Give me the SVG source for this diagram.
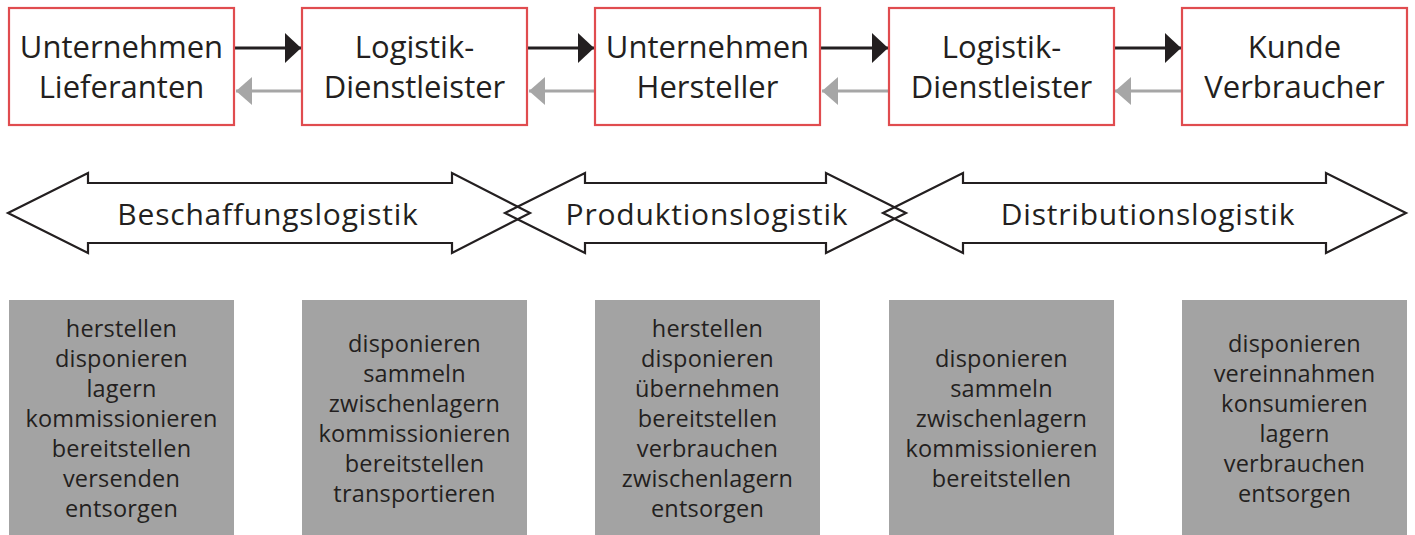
<svg xmlns="http://www.w3.org/2000/svg" width="1415" height="535" viewBox="0 0 1415 535">
<style>
.box{fill:#fff;stroke:#e04c4f;stroke-width:2.2}
.gbox{fill:#a3a3a3}
.t{font-family:"Open Sans","Noto Sans",sans-serif;fill:#231f20;text-anchor:middle}
.big{font-size:31px}
.lbl{font-size:30px;letter-spacing:0.8px}
.sm{font-size:23.5px;letter-spacing:0.2px}
.fw{stroke:#231f20;stroke-width:3;fill:none}
.bw{stroke:#a6a6a6;stroke-width:3;fill:none}
.dbl{fill:none;stroke:#231f20;stroke-width:2.2;stroke-linejoin:miter}
</style>
<defs>
<marker id="hb" markerWidth="16" markerHeight="30" refX="16" refY="15" orient="auto" markerUnits="userSpaceOnUse"><path d="M0,0 L16,15 L0,30 Z" fill="#231f20"/></marker>
<marker id="hg" markerWidth="16" markerHeight="28" refX="16" refY="14" orient="auto" markerUnits="userSpaceOnUse"><path d="M0,0 L16,14 L0,28 Z" fill="#a6a6a6"/></marker>
</defs>
<g id="connectors">
<line class="fw" x1="235" y1="48" x2="301" y2="48" marker-end="url(#hb)"/>
<line class="bw" x1="302" y1="91" x2="236" y2="91" marker-end="url(#hg)"/>
<line class="fw" x1="528" y1="48" x2="594" y2="48" marker-end="url(#hb)"/>
<line class="bw" x1="595" y1="91" x2="529" y2="91" marker-end="url(#hg)"/>
<line class="fw" x1="821" y1="48" x2="888" y2="48" marker-end="url(#hb)"/>
<line class="bw" x1="889" y1="91" x2="822" y2="91" marker-end="url(#hg)"/>
<line class="fw" x1="1114" y1="48" x2="1181" y2="48" marker-end="url(#hb)"/>
<line class="bw" x1="1182" y1="91" x2="1115" y2="91" marker-end="url(#hg)"/>
</g>
<g id="n1"><rect class="box" x="9" y="8" width="225" height="117"/><text class="t big" x="121.5" y="58">Unternehmen</text><text class="t big" x="121.5" y="98">Lieferanten</text></g>
<g id="n2"><rect class="box" x="302" y="8" width="225" height="117"/><text class="t big" x="414.5" y="58">Logistik-</text><text class="t big" x="414.5" y="98">Dienstleister</text></g>
<g id="n3"><rect class="box" x="595" y="8" width="225" height="117"/><text class="t big" x="707.5" y="58">Unternehmen</text><text class="t big" x="707.5" y="98">Hersteller</text></g>
<g id="n4"><rect class="box" x="889" y="8" width="225" height="117"/><text class="t big" x="1001.5" y="58">Logistik-</text><text class="t big" x="1001.5" y="98">Dienstleister</text></g>
<g id="n5"><rect class="box" x="1182" y="8" width="225" height="117"/><text class="t big" x="1294.5" y="58">Kunde</text><text class="t big" x="1294.5" y="98">Verbraucher</text></g>
<g id="a1"><polygon class="dbl" points="8,213 88,173 88,183 452,183 452,173 530,213 452,253 452,243 88,243 88,253"/><text class="t lbl" x="268" y="225">Beschaffungslogistik</text></g>
<g id="a2"><polygon class="dbl" points="505,213 585,173 585,183 826,183 826,173 906,213 826,253 826,243 585,243 585,253"/><text class="t lbl" x="707" y="225">Produktionslogistik</text></g>
<g id="a3"><polygon class="dbl" points="883,213 963,173 963,183 1326,183 1326,173 1406,213 1326,253 1326,243 963,243 963,253"/><text class="t lbl" x="1148" y="225">Distributionslogistik</text></g>
<g id="g1"><rect class="gbox" x="9" y="300" width="225" height="235"/><text class="t sm" y="337"><tspan x="121.5">herstellen</tspan><tspan x="121.5" dy="30">disponieren</tspan><tspan x="121.5" dy="30">lagern</tspan><tspan x="121.5" dy="30">kommissionieren</tspan><tspan x="121.5" dy="30">bereitstellen</tspan><tspan x="121.5" dy="30">versenden</tspan><tspan x="121.5" dy="30">entsorgen</tspan></text></g>
<g id="g2"><rect class="gbox" x="302" y="300" width="225" height="235"/><text class="t sm" y="352"><tspan x="414.5">disponieren</tspan><tspan x="414.5" dy="30">sammeln</tspan><tspan x="414.5" dy="30">zwischenlagern</tspan><tspan x="414.5" dy="30">kommissionieren</tspan><tspan x="414.5" dy="30">bereitstellen</tspan><tspan x="414.5" dy="30">transportieren</tspan></text></g>
<g id="g3"><rect class="gbox" x="595" y="300" width="225" height="235"/><text class="t sm" y="337"><tspan x="707.5">herstellen</tspan><tspan x="707.5" dy="30">disponieren</tspan><tspan x="707.5" dy="30">übernehmen</tspan><tspan x="707.5" dy="30">bereitstellen</tspan><tspan x="707.5" dy="30">verbrauchen</tspan><tspan x="707.5" dy="30">zwischenlagern</tspan><tspan x="707.5" dy="30">entsorgen</tspan></text></g>
<g id="g4"><rect class="gbox" x="889" y="300" width="225" height="235"/><text class="t sm" y="367"><tspan x="1001.5">disponieren</tspan><tspan x="1001.5" dy="30">sammeln</tspan><tspan x="1001.5" dy="30">zwischenlagern</tspan><tspan x="1001.5" dy="30">kommissionieren</tspan><tspan x="1001.5" dy="30">bereitstellen</tspan></text></g>
<g id="g5"><rect class="gbox" x="1182" y="300" width="225" height="235"/><text class="t sm" y="352"><tspan x="1294.5">disponieren</tspan><tspan x="1294.5" dy="30">vereinnahmen</tspan><tspan x="1294.5" dy="30">konsumieren</tspan><tspan x="1294.5" dy="30">lagern</tspan><tspan x="1294.5" dy="30">verbrauchen</tspan><tspan x="1294.5" dy="30">entsorgen</tspan></text></g>
</svg>
